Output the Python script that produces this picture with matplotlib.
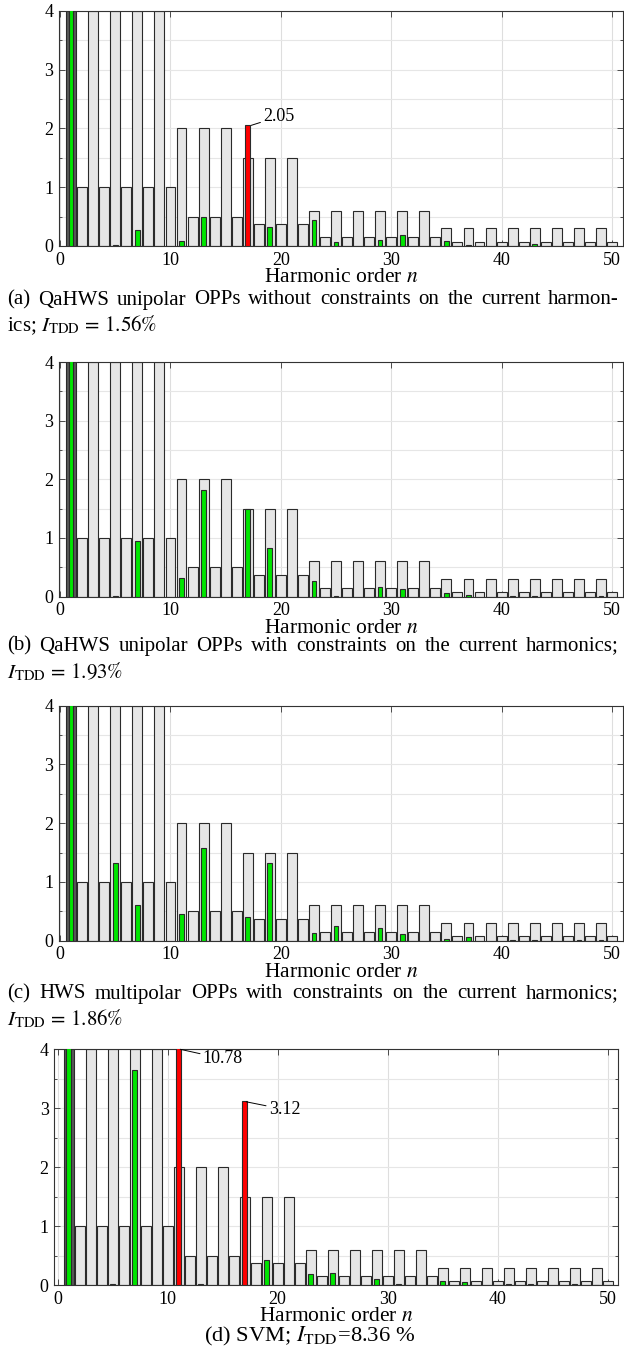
import numpy as np
import matplotlib
matplotlib.use("Agg")
import matplotlib.pyplot as plt
from matplotlib.ticker import MultipleLocator

plt.rcParams['font.family'] = ['Liberation Serif', 'DejaVu Serif']
plt.rcParams['mathtext.fontset'] = 'stix'

# ---------------- data ----------------
orders = list(range(1, 51))
# current-harmonic limits (%), per harmonic order 1..50
limits = [100, 1, 4, 1, 4, 1, 4, 1, 4, 1,
          2, 0.5, 2, 0.5, 2, 0.5, 1.5, 0.375, 1.5, 0.375,
          1.5, 0.375, 0.6, 0.15, 0.6, 0.15, 0.6, 0.15, 0.6, 0.15,
          0.6, 0.15, 0.6, 0.15, 0.3, 0.075, 0.3, 0.075, 0.3, 0.075,
          0.3, 0.075, 0.3, 0.075, 0.3, 0.075, 0.3, 0.075, 0.3, 0.075]

a_orders = [1, 5, 7, 11, 13, 17, 19, 23, 25, 29, 31, 35, 37, 43]
a_values = [100, 0.01, 0.28, 0.09, 0.49, 2.05, 0.33, 0.44, 0.07, 0.10, 0.18, 0.085, 0.02, 0.04]

b_orders = [1, 5, 7, 11, 13, 17, 19, 23, 25, 29, 31, 35, 37, 41, 43, 49]
b_values = [100, 0.01, 0.94, 0.31, 1.82, 1.5, 0.835, 0.27, 0.01, 0.16, 0.125, 0.057, 0.02, 0.015, 0.01, 0.01]

c_orders = [1, 5, 7, 11, 13, 17, 19, 23, 25, 29, 31, 35, 37, 41, 43, 47, 49]
c_values = [100, 1.32, 0.60, 0.46, 1.57, 0.41, 1.33, 0.125, 0.25, 0.21, 0.11, 0.023, 0.057, 0.01, 0.02, 0.01, 0.017]

d_orders = [1, 5, 7, 11, 13, 17, 19, 23, 25, 29, 31, 35, 37, 41, 43, 47, 49]
d_values = [100, 0.03, 3.65, 10.78, 0.02, 3.12, 0.43, 0.19, 0.21, 0.10, 0.017, 0.068, 0.05, 0.017, 0.017, 0.03, 0.01]

captions_line1 = ["(a) QaHWS unipolar OPPs without constraints on the current harmon-",
                  "(b) QaHWS unipolar OPPs with constraints on the current harmonics;",
                  "(c) HWS multipolar OPPs with constraints on the current harmonics;",
                  None]
captions_line2 = [r"ics; $I_{\mathrm{TDD}}\,=\,1.56\%$",
                  r"$I_{\mathrm{TDD}}\,=\,1.93\%$",
                  r"$I_{\mathrm{TDD}}\,=\,1.86\%$",
                  r"(d) SVM; $I_{\mathrm{TDD}}$=8.36 %"]

panels = [(a_orders, a_values), (b_orders, b_values), (c_orders, c_values), (d_orders, d_values)]

# ---------------- layout (pixels) ----------------
W, H = 624, 1351
DPI = 100
fig = plt.figure(figsize=(W / DPI, H / DPI), dpi=DPI)

# left, right, top, bottom (pixels), xlim
boxes = [(59, 623, 10.7, 246.0, (-0.1, 51.0)),
         (59, 623, 362.0, 596.6, (-0.1, 51.0)),
         (59, 623, 705.7, 940.7, (-0.1, 51.0)),
         (54.3, 617.5, 1049.3, 1285.3, (-0.3, 50.9))]

# annotation positions for exceeding harmonics: (panel, order) -> (xy, xytext)
annots = {(0, 17): ((17.3, 2.05), (18.4, 2.20)),
          (3, 11): ((11.15, 4.0), (13.2, 3.84)),
          (3, 17): ((17.15, 3.11), (19.2, 2.98))}

FS_TICK = 13
FS_LABEL = 15.5
FS_CAP = 15
gray_face = '#e6e6e6'
edge = '#2a2a2a'

for i, ((ords, vals), (l, r, t, b, xl)) in enumerate(zip(panels, boxes)):
    ax = fig.add_axes([l / W, 1 - b / H, (r - l) / W, (b - t) / H])
    full = np.zeros(len(orders))
    for o, v in zip(ords, vals):
        full[orders.index(o)] = v
    lim = np.array(limits, dtype=float)
    gface = [('#585858' if o == 1 else gray_face) for o in orders]
    ax.bar(orders, lim, width=0.9, color=gface, edgecolor=edge, linewidth=0.8, zorder=2)
    cols = ['#ff0000' if v > L + 1e-9 else '#00e600' for v, L in zip(full, lim)]
    mask = full > 0
    ax.bar(np.array(orders)[mask], full[mask], width=0.42,
           color=np.array(cols)[mask], edgecolor=edge, linewidth=0.8, zorder=3)
    for (pi, o), (xy, xyt) in annots.items():
        if pi == i:
            v = full[orders.index(o)]
            ax.annotate(f"{v:.2f}", xy=xy, xytext=xyt, fontsize=FS_TICK, va='center', ha='left',
                        arrowprops=dict(arrowstyle='-', lw=0.7, color='black',
                                        shrinkA=0, shrinkB=0), zorder=5, annotation_clip=False)
    ax.set_xlim(*xl)
    ax.set_ylim(0, 4)
    ax.set_xticks([0, 10, 20, 30, 40, 50])
    ax.set_yticks([0, 1, 2, 3, 4])
    ax.yaxis.set_minor_locator(MultipleLocator(0.5))
    ax.grid(True, which='major', axis='x', color='#dedede', lw=0.8)
    ax.grid(True, which='both', axis='y', color='#e6e6e6', lw=0.8)
    ax.set_axisbelow(True)
    ax.tick_params(which='both', direction='in', top=True, right=True, labelsize=FS_TICK,
                   width=0.6, color='#333333')
    ax.tick_params(which='major', length=4, pad=4)
    ax.tick_params(which='minor', length=2.5)
    for s in ax.spines.values():
        s.set_linewidth(0.8)
        s.set_color('#333333')
    lab = ax.set_xlabel(r"Harmonic order $n$", fontsize=FS_LABEL, labelpad=0)
    lab.set_va('center')
    ax.xaxis.set_label_coords(0.5, -31.5 / (b - t))

# ---------------- captions ----------------
renderer = fig.canvas.get_renderer()
cap_y1 = [300, 646, 994, None]
cap_y2 = [325, 672, 1019, 1336]
x_left, x_right = 7, 619

for i in range(4):
    line1 = captions_line1[i]
    if line1 is not None:
        words = line1.split(' ')
        txts = [fig.text(0, 1 - cap_y1[i] / H, w, fontsize=FS_CAP, va='center', ha='left') for w in words]
        widths = [tx.get_window_extent(renderer).width for tx in txts]
        gap = (x_right - x_left - sum(widths)) / (len(words) - 1)
        x = x_left
        for tx, w in zip(txts, widths):
            tx.set_x(x / W)
            x += w + gap
    if i < 3:
        fig.text(x_left / W, 1 - cap_y2[i] / H, captions_line2[i], fontsize=FS_CAP, va='center', ha='left')
    else:
        fig.text(310 / W, 1 - cap_y2[i] / H, captions_line2[i], fontsize=16.2,
                 va='center', ha='center')

fig.savefig("out.png", dpi=DPI)
